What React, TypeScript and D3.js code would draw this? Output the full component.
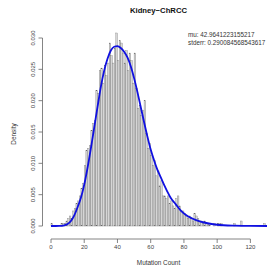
import React from "react";
import * as d3 from "d3";

const TITLE = "Kidney\u2212ChRCC";
const X_LABEL = "Mutation Count";
const Y_LABEL = "Density";
const MU_TEXT = "mu: 42.9641223155217";
const SE_TEXT = "stderr: 0.290084568543617";

const xTicks = [0, 20, 40, 60, 80, 100, 120];
const yTicks = [0, 0.005, 0.01, 0.015, 0.02, 0.025, 0.03];
const yTickLabels = ["0.000", "0.005", "0.010", "0.015", "0.020", "0.025", "0.030"];

// histogram bins [i, i+1), density
const binStarts = d3.range(0, 130);
const binDensity = [
  0.0004, 0, 0, 0, 0, 0, 0.0004, 0.0004, 0.0004, 0.0008,
  0.0012, 0.0016, 0.0012, 0.0024, 0.0028, 0.0036, 0.004, 0.0048, 0.006, 0.0068,
  0.0096, 0.012, 0.0124, 0.0128, 0.0152, 0.0164, 0.0168, 0.0216, 0.0212, 0.0248,
  0.0252, 0.0228, 0.0256, 0.024, 0.026, 0.0292, 0.0272, 0.026, 0.0284, 0.0308,
  0.0264, 0.0296, 0.0292, 0.0276, 0.026, 0.028, 0.0248, 0.0276, 0.0264, 0.0228,
  0.0276, 0.022, 0.0188, 0.0192, 0.0176, 0.0184, 0.02, 0.0148, 0.0124, 0.0132,
  0.0112, 0.0096, 0.0104, 0.008, 0.0088, 0.0064, 0.0072, 0.0048, 0.0048, 0.0044,
  0.0048, 0.0036, 0.004, 0.0032, 0.0028, 0.0044, 0.0048, 0.0032, 0.0024, 0.0024,
  0.002, 0.0016, 0.0012, 0.0016, 0.0012, 0.0008, 0.002, 0.0016, 0.0012, 0.0008,
  0.0008, 0.0004, 0.0008, 0.0004, 0.0004, 0.0004, 0, 0, 0.0004, 0,
  0.0004, 0.0004, 0.0004, 0, 0, 0, 0, 0, 0, 0,
  0.0004, 0, 0, 0, 0.0008, 0, 0, 0, 0, 0,
  0, 0, 0, 0, 0, 0, 0, 0, 0.0004, 0,
];

// fitted density curve
const curveX = [0, 5, 8, 10, 12, 14, 16, 18, 20, 22, 24, 26, 28, 30, 32, 34, 36, 38, 40, 42, 44, 46, 48, 50, 52, 54, 56, 58, 60, 62, 64, 66, 68, 70, 72, 75, 78, 81, 85, 90, 95, 100, 110, 120, 130];
const curveY = [0, 0.00001, 0.0001, 0.0003, 0.0008, 0.0017, 0.003, 0.0045, 0.0066, 0.0093, 0.0124, 0.0157, 0.019, 0.0222, 0.0248, 0.0267, 0.028, 0.0286, 0.0287, 0.0284, 0.0278, 0.0269, 0.0255, 0.0236, 0.0214, 0.019, 0.0166, 0.0143, 0.0122, 0.0105, 0.009, 0.0078, 0.0066, 0.0055, 0.0045, 0.0035, 0.0025, 0.0018, 0.0012, 0.0007, 0.0004, 0.0002, 0.00006, 0.00002, 0];

export default function App() {
  const W = 279, H = 276;
  const x = d3.scaleLinear().domain([0, 120]).range([51, 250.4]);
  const y = d3.scaleLinear().domain([0, 0.03]).range([226, 38]);
  const font = "Liberation Sans, Arial, Helvetica, sans-serif";
  const line = d3
    .line<number>()
    .x((_, i) => x(curveX[i]))
    .y((d) => y(d))
    .curve(d3.curveMonotoneX);
  const axisY = 239;
  const axisX = 42.5;
  return (
    <svg width={W} height={H} style={{ position: "absolute", left: 0, top: 0, background: "#fff" }} fontFamily={font}>
      <text x={158.5} y={13} textAnchor="middle" fontSize={7.7} fontWeight="bold" fill="#111">{TITLE}</text>
      {binStarts.map((b, i) =>
        binDensity[i] > 0 ? (
          <rect key={b} x={x(b)} y={y(binDensity[i])} width={x(b + 1) - x(b)} height={y(0) - y(binDensity[i])}
            fill="#d6d6d6" stroke="#666" strokeWidth={0.3} />
        ) : null
      )}
      <path d={line(curveY) || ""} fill="none" stroke="#1010e0" strokeWidth={1.8} />
      {/* x axis */}
      <line x1={x(0)} x2={x(120)} y1={axisY} y2={axisY} stroke="#666" strokeWidth={0.8} />
      {xTicks.map((t) => (
        <g key={t}>
          <line x1={x(t)} x2={x(t)} y1={axisY} y2={axisY + 4} stroke="#666" strokeWidth={0.8} />
          <text x={x(t)} y={249} textAnchor="middle" fontSize={6} fill="#444">{t}</text>
        </g>
      ))}
      <text x={158.5} y={265} textAnchor="middle" fontSize={6.4} fill="#333">{X_LABEL}</text>
      {/* y axis */}
      <line x1={axisX} x2={axisX} y1={y(0)} y2={y(0.03)} stroke="#666" strokeWidth={0.8} />
      {yTicks.map((t, i) => (
        <g key={t}>
          <line x1={axisX - 4} x2={axisX} y1={y(t)} y2={y(t)} stroke="#666" strokeWidth={0.8} />
          <text transform={`translate(35,${y(t)}) rotate(-90)`} textAnchor="middle" fontSize={6} fill="#444">{yTickLabels[i]}</text>
        </g>
      ))}
      <text transform={`translate(16,134) rotate(-90)`} textAnchor="middle" fontSize={6.4} fill="#333">{Y_LABEL}</text>
      <text x={188} y={37} fontSize={6.3} fill="#333">{MU_TEXT}</text>
      <text x={188} y={45} fontSize={6.3} fill="#333">{SE_TEXT}</text>
    </svg>
  );
}
